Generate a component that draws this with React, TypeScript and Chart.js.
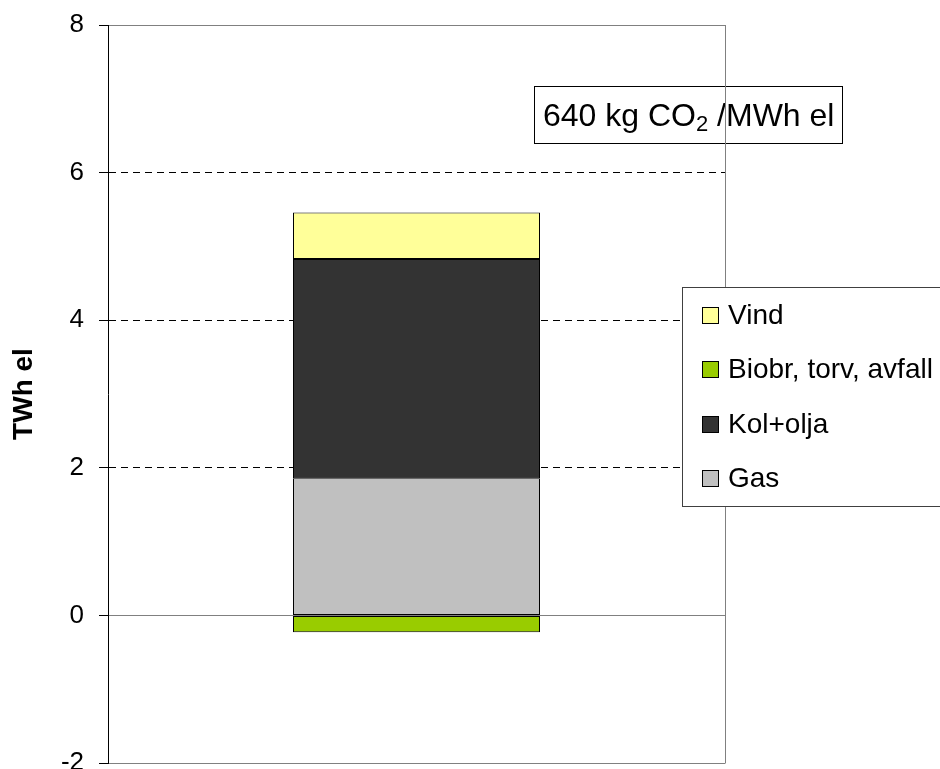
import React, { useEffect, useRef } from 'react';
import { Chart, registerables } from 'chart.js';

Chart.register(...registerables);

// Electricity production by source (TWh el), one stacked column
const categories = [''];
const seriesLabels = ['Gas', 'Kol+olja', 'Biobr, torv, avfall', 'Vind'];
const gasValues = [1.86];
const kolOljaValues = [2.97];
const biobrValues = [-0.23];
const vindValues = [0.63];
const seriesColors = ['#C0C0C0', '#333333', '#99CC00', '#FFFF99'];

const yMin = -2;
const yMax = 8;
const yStep = 2;
const yTitle = 'TWh el';

// Emission intensity note: "640 kg CO2 /MWh el"
const noteMain = '640 kg CO';
const noteSub = '2';
const noteTail = ' /MWh el';

const FONT = 'Arial, "Liberation Sans", sans-serif';
const WIDTH = 940;
const HEIGHT = 769;

const seriesValues = [gasValues, kolOljaValues, biobrValues, vindValues];

const overlayPlugin = {
  id: 'overlay',
  afterDatasetsDraw(chart: any) {
    const { ctx, chartArea } = chart;
    ctx.save();

    // emission note box (unfilled, frame line shows through)
    const textX = 543;
    const baseY = 126;
    ctx.font = `32px ${FONT}`;
    const wMain = ctx.measureText(noteMain).width;
    const wTail = ctx.measureText(noteTail).width;
    ctx.font = `22px ${FONT}`;
    const wSub = ctx.measureText(noteSub).width;
    const boxLeft = 534.5;
    const boxTop = 86.5;
    const boxW = (textX - boxLeft) * 2 + wMain + wSub + wTail;
    ctx.strokeStyle = '#000';
    ctx.lineWidth = 1;
    ctx.strokeRect(boxLeft, boxTop, Math.round(boxW), 57);

    ctx.fillStyle = '#000';
    ctx.textBaseline = 'alphabetic';
    ctx.textAlign = 'left';
    ctx.font = `32px ${FONT}`;
    ctx.fillText(noteMain, textX, baseY);
    ctx.font = `22px ${FONT}`;
    ctx.fillText(noteSub, textX + wMain, baseY + 5);
    ctx.font = `32px ${FONT}`;
    ctx.fillText(noteTail, textX + wMain + wSub, baseY);

    // right edge of the plot frame
    const rx = Math.round(chartArea.right) + 0.5;
    ctx.strokeStyle = '#808080';
    ctx.beginPath();
    ctx.moveTo(rx, chartArea.top);
    ctx.lineTo(rx, chartArea.bottom + 0.5);
    ctx.stroke();
    ctx.restore();
  },
  afterDraw(chart: any) {
    const { ctx } = chart;
    ctx.save();
    // legend box
    const left = 682.5;
    const top = 287.5;
    const w = 300;
    const h = 219;
    ctx.fillStyle = '#fff';
    ctx.fillRect(left, top, w, h);
    ctx.strokeStyle = '#404040';
    ctx.lineWidth = 1;
    ctx.strokeRect(left, top, w, h);

    const datasets = chart.data.datasets;
    const order = datasets.map((_: any, i: number) => i).reverse();
    ctx.font = `28px ${FONT}`;
    ctx.textBaseline = 'alphabetic';
    ctx.textAlign = 'left';
    order.forEach((di: number, row: number) => {
      const ds = datasets[di];
      const base = 324 + row * 54.3;
      const sy = Math.round(base - 17) + 0.5;
      ctx.fillStyle = ds.backgroundColor;
      ctx.fillRect(702.5, sy, 16, 16);
      ctx.strokeStyle = '#000';
      ctx.strokeRect(702.5, sy, 16, 16);
      ctx.fillStyle = '#000';
      ctx.fillText(ds.label, 728, base);
    });
    ctx.restore();
  },
};

function App() {
  const canvasRef = useRef<HTMLCanvasElement | null>(null);

  useEffect(() => {
    const canvas = canvasRef.current;
    if (!canvas) return;

    const isFrame = (v: number) => v === yMin || v === yMax || v === 0;

    const chart = new Chart(canvas, {
      type: 'bar',
      data: {
        labels: categories,
        datasets: seriesLabels.map((label, i) => ({
          label,
          data: seriesValues[i],
          backgroundColor: seriesColors[i],
          borderColor: '#000',
          borderWidth: 1,
          borderSkipped: false,
          categoryPercentage: 1,
          barPercentage: 247 / 617,
        })),
      },
      options: {
        responsive: false,
        animation: false,
        layout: { padding: { left: 0, top: 25, right: 215, bottom: 6 } },
        plugins: {
          legend: { display: false },
          tooltip: { enabled: false },
        },
        scales: {
          x: {
            stacked: true,
            display: false,
          },
          y: {
            stacked: true,
            min: yMin,
            max: yMax,
            afterFit: (scale: any) => {
              scale.width = 108;
              scale.paddingTop = 0;
              scale.paddingBottom = 0;
            },
            ticks: {
              stepSize: yStep,
              color: '#000',
              padding: 15,
              font: { family: FONT, size: 26 },
            },
            grid: {
              drawTicks: true,
              tickLength: 9,
              tickColor: '#000',
              tickBorderDash: [],
              lineWidth: 1,
              color: (ctx: any) =>
                ctx.tick && isFrame(ctx.tick.value) ? '#808080' : '#000',
            },
            border: {
              display: true,
              color: '#000',
              width: 1,
              dash: (ctx: any) =>
                ctx.tick && !isFrame(ctx.tick.value) ? [7, 5] : [],
            },
            title: {
              display: true,
              text: yTitle,
              color: '#000',
              padding: { top: 7, bottom: 0 },
              font: { family: FONT, size: 28, weight: 'bold' },
            },
          },
        },
      },
      plugins: [overlayPlugin],
    });

    return () => chart.destroy();
  }, []);

  return (
    <div style={{ position: 'absolute', left: 0, top: 0, width: WIDTH, height: HEIGHT, background: '#fff' }}>
      <canvas ref={canvasRef} width={WIDTH} height={HEIGHT} style={{ display: 'block' }} />
    </div>
  );
}

export default App;
